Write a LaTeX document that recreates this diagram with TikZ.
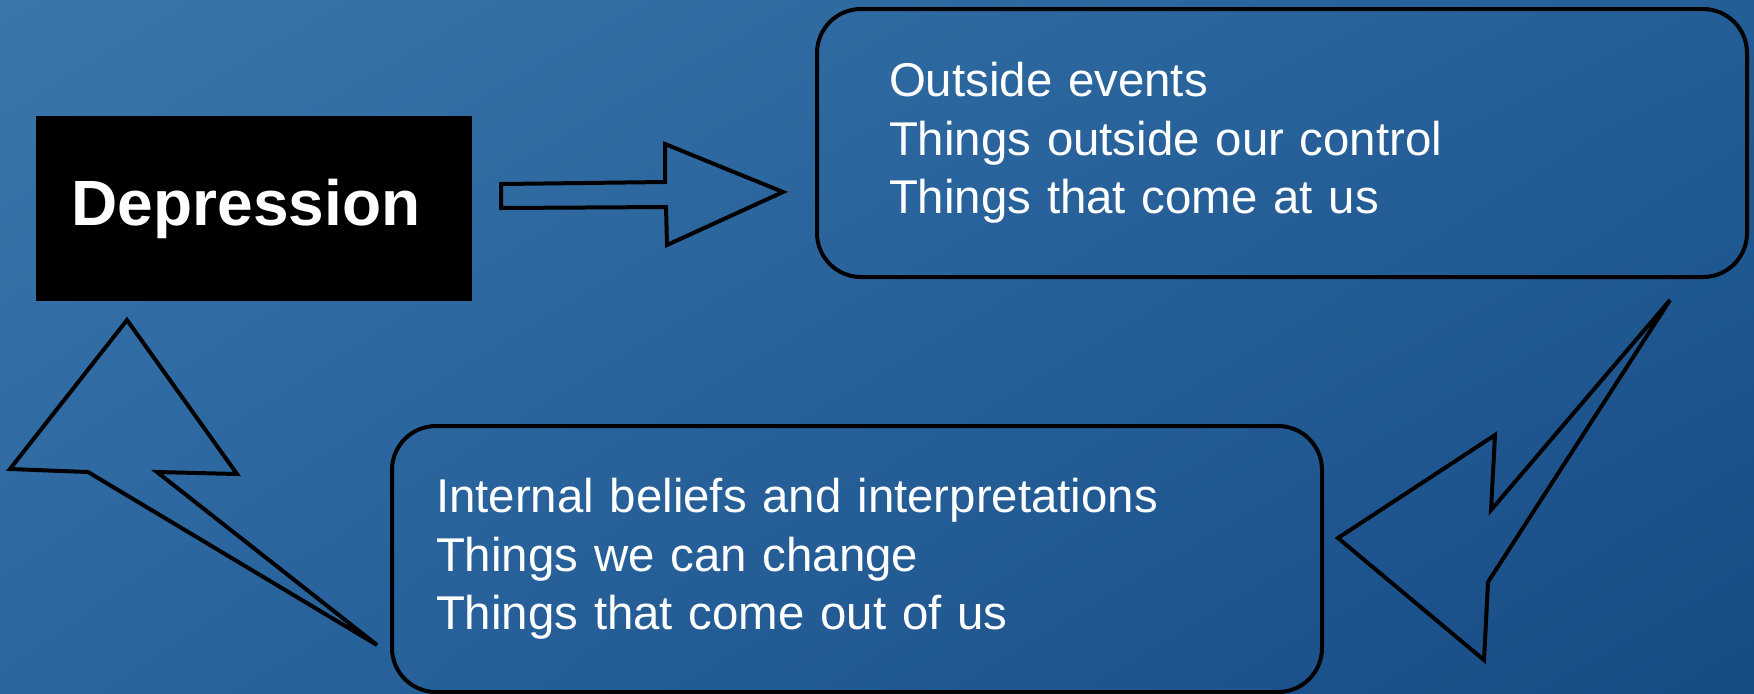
\documentclass[tikz,border=0pt]{standalone}
\usepackage{fontspec}
\setmainfont{Liberation Sans}
\usetikzlibrary{shadings}

\definecolor{bgUL}{HTML}{3A75AB}
\definecolor{bgUR}{HTML}{245E97}
\definecolor{bgLL}{HTML}{2B66A0}
\definecolor{bgLR}{HTML}{174B84}

\begin{document}
\begin{tikzpicture}[x=0.5pt,y=-0.5pt]
    \tikzstyle{every node}=[text=white, font=\fontsize{23.7}{29.3}\selectfont]
    \tikzstyle{roundbox}=[draw=black, line width=2pt, rounded corners=22pt, minimum width=465pt, align=left]
    \tikzstyle{blockarrow}=[draw=black, line width=2pt]
    \useasboundingbox (0,0) rectangle (1754,693);
    \shade[upper left=bgUL, upper right=bgUR, lower left=bgLL, lower right=bgLR] (0,0) rectangle (1754,693);
    % the three stages of the cycle
    \node[fill=black, minimum width=218pt, minimum height=92.5pt, font=\fontsize{32}{38}\selectfont\bfseries] (dep) at (254,208.5) {Depression\hspace*{8pt}};
    \node[roundbox, minimum height=134pt, text width=393pt, inner xsep=36pt] (outside) at (1282,143)
        {Outside events\\Things outside our control\\Things that come at us};
    \node[roundbox, minimum height=133pt, text width=421pt, inner xsep=22pt] (inside) at (857,559)
        {Internal beliefs and interpretations\\Things we can change\\Things that come out of us};
    % arrows between them
    \draw[blockarrow] (501,184) -- (665,182) -- (665,144) -- (783,192) -- (667,245) -- (666,207) -- (501,208) -- cycle;
    \draw[blockarrow] (1670,300) -- (1491,510) -- (1495,435) -- (1338,538) -- (1484,660) -- (1488,582) -- cycle;
    \draw[blockarrow] (127,320) -- (237,474) -- (157,472) -- (377,645) -- (88,472) -- (10,469) -- cycle;
\end{tikzpicture}
\end{document}
